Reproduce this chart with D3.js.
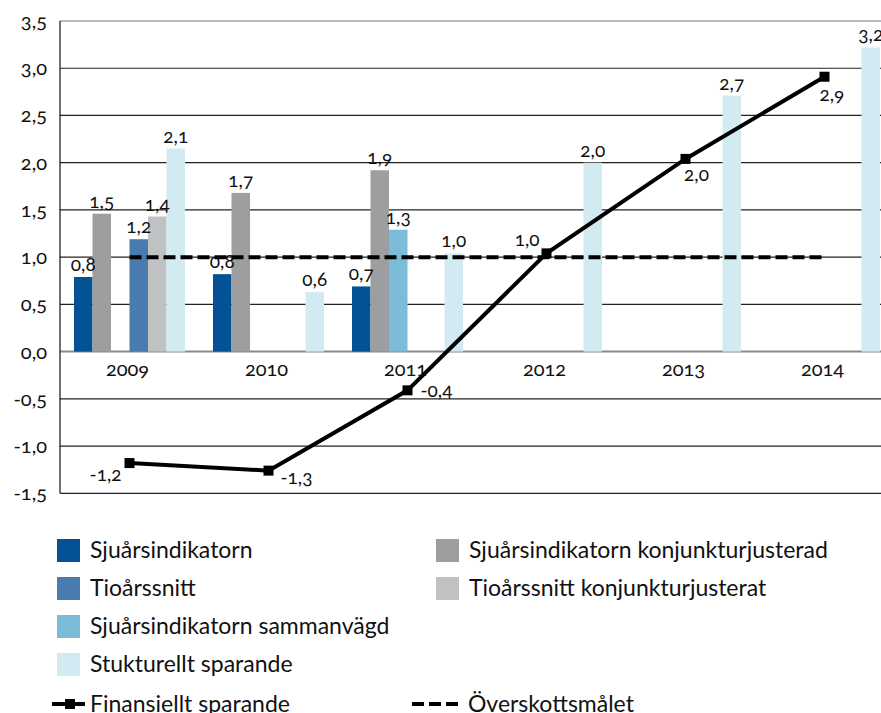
<!DOCTYPE html>
<html>
<head>
<meta charset="utf-8">
<script src="https://cdn.jsdelivr.net/npm/d3@7"></script>
<style>
  body { margin: 0; background: #fff; }
  svg text { font-family: Lato, "DejaVu Sans", sans-serif; fill: #111; }
  .num { font-variant-numeric: oldstyle-nums; }
</style>
</head>
<body>
<svg width="881" height="713"></svg>
<script>
var svg = d3.select("svg");

// data
var years = ["2009", "2010", "2011", "2012", "2013", "2014"];
var seriesNames = ["Sjuårsindikatorn", "Sjuårsindikatorn konjunkturjusterad", "Sjuårsindikatorn sammanvägd",
                   "Tioårssnitt", "Tioårssnitt konjunkturjusterat", "Stukturellt sparande"];
var sju       = [0.79, 0.82, 0.69, null, null, null];
var sjuKonj   = [1.46, 1.68, 1.92, null, null, null];
var sjuSamman = [null, null, 1.29, null, null, null];
var tio       = [1.19, null, null, null, null, null];
var tioKonj   = [1.43, null, null, null, null, null];
var struktur  = [2.15, 0.63, 1.04, 2.0, 2.71, 3.22];
var finansiellt = [-1.18, -1.26, -0.41, 1.04, 2.04, 2.91];
var overskott = [1.0, 1.0, 1.0, 1.0, 1.0, 1.0];
var yTicks = [-1.5, -1.0, -0.5, 0, 0.5, 1.0, 1.5, 2.0, 2.5, 3.0, 3.5];

var colors = ["#035293", "#9d9ea0", "#7bbdd9", "#4a7baf", "#c0c1c3", "#d2eaf1"];
var seriesValues = [sju, sjuKonj, sjuSamman, tio, tioKonj, struktur];

var fmt = function(v) { return d3.format(".1f")(v).replace(".", ",").replace("\u2212", "-"); };

var x = d3.scaleBand().domain(years).range([60, 894]);
var xs = d3.scaleBand().domain(d3.range(6)).range([14, 125]);
var y = d3.scaleLinear().domain([-1.5, 3.5]).range([493.3, 21]);

// gridlines
svg.append("g").selectAll("line")
    .data(yTicks)
    .enter().append("line")
    .attr("x1", 60).attr("x2", 881)
    .attr("y1", function(d) { return y(d); })
    .attr("y2", function(d) { return y(d); })
    .style("stroke", function(d) { return d === 0 ? "#8a8a8a" : (d === 3.5 ? "#777" : "#222"); })
    .style("stroke-width", function(d) { return d === 0 ? 2 : 1.2; });

// y tick labels
svg.append("g").selectAll("text")
    .data(yTicks)
    .enter().append("text")
    .attr("class", "num")
    .attr("x", 47).attr("y", function(d) { return y(d) + 7; })
    .attr("text-anchor", "end")
    .style("font-size", "20px")
    .text(function(d) { return fmt(d); });

// bars
var bars = [];
seriesValues.forEach(function(vals, s) {
  vals.forEach(function(v, i) {
    if (v !== null) bars.push({s: s, year: years[i], v: v});
  });
});

svg.append("g").selectAll("rect")
    .data(bars)
    .enter().append("rect")
    .attr("x", function(d) { return x(d.year) + xs(d.s); })
    .attr("width", xs.bandwidth())
    .attr("y", function(d) { return y(d.v); })
    .attr("height", function(d) { return y(0) - y(d.v); })
    .style("fill", function(d) { return colors[d.s]; });

svg.append("g").selectAll("text")
    .data(bars)
    .enter().append("text")
    .attr("class", "num")
    .attr("x", function(d) { return x(d.year) + xs(d.s) + xs.bandwidth() / 2; })
    .attr("y", function(d) { return y(d.v) - 6; })
    .attr("text-anchor", "middle")
    .style("font-size", "19px")
    .text(function(d) { return fmt(d.v); });

// axis line
svg.append("line")
    .attr("x1", 60).attr("x2", 60)
    .attr("y1", y(3.5)).attr("y2", y(-1.5))
    .style("stroke", "#111").style("stroke-width", 1.2);

// year labels
svg.append("g").selectAll("text")
    .data(years)
    .enter().append("text")
    .attr("class", "num")
    .attr("x", function(d) { return x(d) + x.bandwidth() / 2 - 2; })
    .attr("y", y(0) + 24)
    .attr("text-anchor", "middle")
    .style("font-size", "20px")
    .text(function(d) { return d; });

var cx = function(d, i) { return x(years[i]) + x.bandwidth() / 2; };

// Överskottsmålet
svg.append("path")
    .datum(overskott)
    .attr("d", d3.line().x(cx).y(function(d) { return y(d); }))
    .style("fill", "none").style("stroke", "#000")
    .style("stroke-width", 4).style("stroke-dasharray", "12,5");

// Finansiellt sparande
svg.append("path")
    .datum(finansiellt)
    .attr("d", d3.line().x(cx).y(function(d) { return y(d); }))
    .style("fill", "none").style("stroke", "#000").style("stroke-width", 4);

svg.append("g").selectAll("rect")
    .data(finansiellt)
    .enter().append("rect")
    .attr("x", function(d, i) { return cx(d, i) - 5; })
    .attr("y", function(d) { return y(d) - 5; })
    .attr("width", 10).attr("height", 10)
    .style("fill", "#000");

// label placement for line points: [dx, dy, anchor]
var lineLabelPos = [[-8, 18, "end"], [12, 13, "start"], [13, 7, "start"], [-7, -7, "end"], [11, 22, "middle"], [-5, 24, "start"]];
svg.append("g").selectAll("text")
    .data(finansiellt)
    .enter().append("text")
    .attr("class", "num")
    .attr("x", function(d, i) { return cx(d, i) + lineLabelPos[i][0]; })
    .attr("y", function(d, i) { return y(d) + lineLabelPos[i][1]; })
    .attr("text-anchor", function(d, i) { return lineLabelPos[i][2]; })
    .style("font-size", "19px")
    .text(function(d) { return fmt(d); });

// legend
var legendOrder = [0, 3, 2, 5, 1, 4];
var legendPos = [[57, 539], [57, 577], [57, 615], [57, 653], [436, 539], [436, 577]];
var leg = svg.append("g").selectAll("g")
    .data(legendOrder)
    .enter().append("g")
    .attr("transform", function(d, i) { return "translate(" + legendPos[i][0] + "," + legendPos[i][1] + ")"; });
leg.append("rect").attr("width", 23).attr("height", 23).style("fill", function(d) { return colors[d]; });
leg.append("text").attr("x", 33).attr("y", 19).style("font-size", "23px")
    .text(function(d) { return seriesNames[d]; });

var lg1 = svg.append("g").attr("transform", "translate(52,704)");
lg1.append("line").attr("x1", 0).attr("x2", 33).style("stroke", "#000").style("stroke-width", 4);
lg1.append("rect").attr("x", 13).attr("y", -5).attr("width", 10).attr("height", 10).style("fill", "#000");
lg1.append("text").attr("x", 38).attr("y", 8).style("font-size", "23px").text("Finansiellt sparande");

var lg2 = svg.append("g").attr("transform", "translate(412,704)");
lg2.append("line").attr("x1", 0).attr("x2", 47).style("stroke", "#000").style("stroke-width", 4).style("stroke-dasharray", "12,5");
lg2.append("text").attr("x", 56).attr("y", 8).style("font-size", "23px").text("Överskottsmålet");
</script>
</body>
</html>
